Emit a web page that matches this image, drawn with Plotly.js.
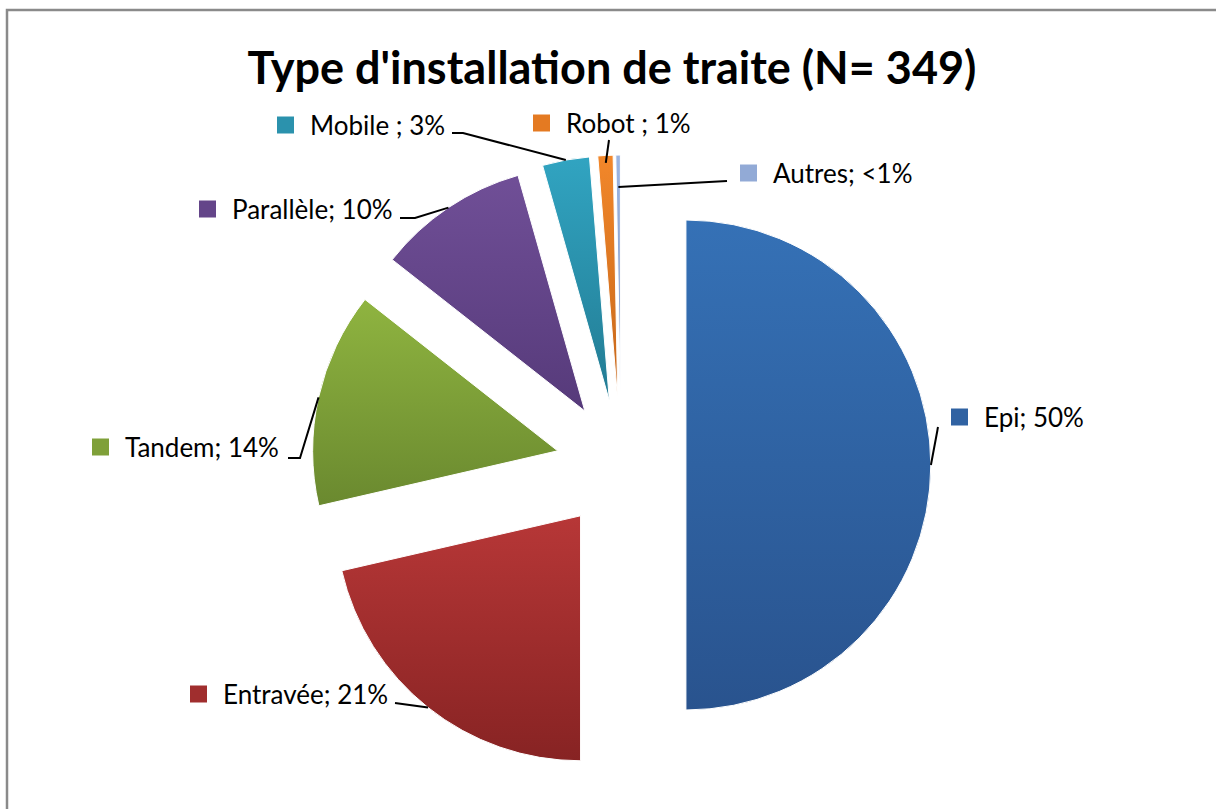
<!DOCTYPE html>
<html>
<head>
<meta charset="utf-8">
<script src="https://cdn.plot.ly/plotly-3.0.1.min.js"></script>
<style>html,body{margin:0;padding:0;background:#fff;}#chart{width:1216px;height:809px;}</style>
</head>
<body>
<div id="chart"></div>
<script>
// ---- Data ----
const categories = ['Epi', 'Entravée', 'Tandem', 'Parallèle', 'Mobile', 'Robot', 'Autres'];
const values = [50, 21.4, 14.2, 10, 3.1, 1, 0.3];
const labelTexts = ['Epi; 50%', 'Entravée; 21%', 'Tandem; 14%', 'Parallèle; 10%', 'Mobile ; 3%', 'Robot ; 1%', 'Autres; <1%'];
const colors = ['#3062a2', '#a02e2e', '#7fa039', '#644589', '#2b92ad', '#e47a22', '#92aad6'];
const colorsTop = ['#3571b6', '#b73737', '#8fb440', '#704f97', '#31a4c1', '#f2872a', '#9cb4e0'];
const colorsBottom = ['#29538e', '#872323', '#6a892f', '#563a7a', '#227b93', '#c5661a', '#7d95c4'];
const titleText = "Type d'installation de traite (N= 349)";

// ---- Layout configuration (pixels) ----
const W = 1216, H = 809;
const pieCenter = [621, 465];
const pieRadius = 245;
const pullFrac = 0.265;
const labelCfg = [
  {sx: 951, sy: 417, lead: [[938, 427]], f: 1.0},
  {sx: 190, sy: 694, lead: [[395, 703]], f: 1.0},
  {sx: 92,  sy: 447, lead: [[288, 458], [300, 458]], f: 1.0},
  {sx: 199, sy: 209, lead: [[400, 218], [415, 218]], f: 1.0},
  {sx: 277, sy: 125, lead: [[452, 133], [463, 133]], f: 1.0},
  {sx: 533, sy: 123, lead: [[609, 140]], f: 0.97},
  {sx: 740, sy: 173, lead: [[727, 181]], f: 0.87}
];

const half = pieRadius * (1 + pullFrac);
const px2x = x => x / W;
const px2y = y => 1 - y / H;

const pieTrace = {
  type: 'pie',
  labels: categories,
  values: values,
  sort: false,
  direction: 'clockwise',
  rotation: 0,
  pull: values.map(() => pullFrac),
  marker: {colors: colors, line: {color: '#ffffff', width: 1}},
  textinfo: 'none',
  hoverinfo: 'label+percent',
  showlegend: false,
  domain: {
    x: [px2x(pieCenter[0] - half), px2x(pieCenter[0] + half)],
    y: [px2y(pieCenter[1] + half), px2y(pieCenter[1] - half)]
  }
};

const total = values.reduce((a, b) => a + b, 0);
let cum = 0;
const shapes = [];
const annotations = [];
values.forEach((v, i) => {
  const a0 = cum / total * 2 * Math.PI;
  cum += v;
  const a1 = cum / total * 2 * Math.PI;
  const am = (a0 + a1) / 2;
  const dx = Math.sin(am), dy = -Math.cos(am);
  const pullPx = pieRadius * pullFrac;
  const cfg = labelCfg[i];
  const ax = pieCenter[0] + dx * (pullPx + pieRadius * cfg.f);
  const ay = pieCenter[1] + dy * (pullPx + pieRadius * cfg.f);
  const pts = cfg.lead.concat([[ax, ay]]);
  const path = pts.map((p, k) => (k ? 'L' : 'M') + px2x(p[0]).toFixed(5) + ',' + px2y(p[1]).toFixed(5)).join(' ');
  shapes.push({type: 'path', xref: 'paper', yref: 'paper', path: path, line: {color: '#000000', width: 2}, layer: 'above'});
  shapes.push({type: 'rect', xref: 'paper', yref: 'paper',
    x0: px2x(cfg.sx), x1: px2x(cfg.sx + 17), y0: px2y(cfg.sy - 8.5), y1: px2y(cfg.sy + 8.5),
    fillcolor: colors[i], line: {width: 0}, layer: 'above'});
  annotations.push({xref: 'paper', yref: 'paper', x: px2x(cfg.sx + 31), y: px2y(cfg.sy),
    xanchor: 'left', yanchor: 'middle', showarrow: false, text: labelTexts[i],
    font: {family: 'Lato, "Open Sans", sans-serif', size: 26, color: '#000000'}});
});

shapes.push({type: 'rect', xref: 'paper', yref: 'paper', x0: px2x(7), y0: px2y(10), x1: 1.05, y1: -0.05,
  line: {color: '#8a8a8a', width: 2.5}, fillcolor: 'rgba(0,0,0,0)', layer: 'below'});

const layout = {
  width: W, height: H,
  margin: {l: 0, r: 0, t: 0, b: 0},
  paper_bgcolor: '#ffffff',
  title: {text: '<b>' + titleText + '</b>', font: {family: 'Lato, "Open Sans", sans-serif', size: 45, color: '#000000'},
    x: 612 / W, xanchor: 'center', xref: 'paper', y: 1 - 68 / H, yanchor: 'middle', yref: 'container'},
  shapes: shapes,
  annotations: annotations,
  showlegend: false
};

function addGradients(gd) {
  const svg = gd.querySelector('svg.main-svg');
  if (!svg) return;
  const ns = 'http://www.w3.org/2000/svg';
  let defs = svg.querySelector('defs');
  if (!defs) { defs = document.createElementNS(ns, 'defs'); svg.insertBefore(defs, svg.firstChild); }
  const makeGrad = (id, c0, c1) => {
    const g = document.createElementNS(ns, 'linearGradient');
    g.setAttribute('id', id);
    g.setAttribute('x1', '0'); g.setAttribute('y1', '0'); g.setAttribute('x2', '0'); g.setAttribute('y2', '1');
    [[0, c0], [1, c1]].forEach(([o, c]) => {
      const s = document.createElementNS(ns, 'stop');
      s.setAttribute('offset', o); s.setAttribute('stop-color', c);
      g.appendChild(s);
    });
    defs.appendChild(g);
  };
  colorsTop.forEach((c, i) => makeGrad('sliceGrad' + i, c, colorsBottom[i]));
  const surfaces = gd.querySelectorAll('.pielayer .slice path.surface');
  surfaces.forEach((p, i) => { if (i < colorsTop.length) p.style.fill = 'url(#sliceGrad' + i + ')'; });
  // squares in labels
  const rects = gd.querySelectorAll('.shapelayer path');
}

Plotly.newPlot('chart', [pieTrace], layout, {displayModeBar: false, staticPlot: true}).then(addGradients);
</script>
</body>
</html>
